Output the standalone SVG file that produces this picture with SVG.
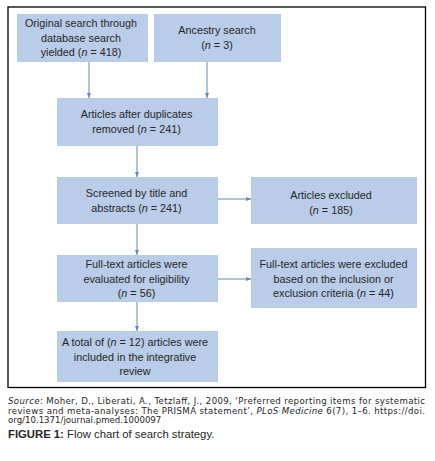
<svg xmlns="http://www.w3.org/2000/svg" width="435" height="461" viewBox="0 0 435 461">
<style>
.box{fill:#b9cde8;}
.t{font-family:"Liberation Sans",Arial,sans-serif;font-size:10.8px;fill:#262626;text-anchor:middle;}
.c{font-family:"DejaVu Sans",Verdana,sans-serif;font-size:8.6px;fill:#262626;}
.f{font-family:"Liberation Sans",Arial,sans-serif;font-size:11.3px;fill:#262626;}
.i{font-style:italic;}
.conn{stroke:#5b8cc0;stroke-width:1;fill:none;marker-end:url(#ah);}
</style>
<defs>
<marker id="ah" markerUnits="userSpaceOnUse" markerWidth="5" markerHeight="5" refX="5" refY="2.5" orient="auto">
<path d="M0,0.5 L5,2.5 L0,4.5 Z" fill="#5b8cc0"/>
</marker>
</defs>
<rect x="8" y="7" width="417.5" height="380.5" fill="#fff" stroke="#000" stroke-width="1.3"/>
<g id="connectors">
<line class="conn" x1="89" y1="62" x2="89" y2="98"/>
<line class="conn" x1="207" y1="62" x2="207" y2="98"/>
<line class="conn" x1="137" y1="146" x2="137" y2="177"/>
<line class="conn" x1="218" y1="199" x2="251" y2="199"/>
<line class="conn" x1="137" y1="224" x2="137" y2="255"/>
<line class="conn" x1="218" y1="279" x2="251" y2="279"/>
<line class="conn" x1="137" y1="302" x2="137" y2="331"/>
</g>
<g id="n1">
<rect class="box" x="17" y="14" width="131" height="48"/>
<text class="t" x="81" y="27">Original search through</text>
<text class="t" x="81" y="41.5">database search</text>
<text class="t" x="81" y="56">yielded (<tspan class="i">n</tspan> = 418)</text>
</g>
<g id="n2">
<rect class="box" x="154" y="14" width="127" height="48"/>
<text class="t" x="217" y="34">Ancestry search</text>
<text class="t" x="217" y="48.5">(<tspan class="i">n</tspan> = 3)</text>
</g>
<g id="n3">
<rect class="box" x="57" y="98" width="161" height="48"/>
<text class="t" x="136.5" y="118">Articles after duplicates</text>
<text class="t" x="136.5" y="132.5">removed  (<tspan class="i">n</tspan> = 241)</text>
</g>
<g id="n4">
<rect class="box" x="57" y="177" width="161" height="47"/>
<text class="t" x="136.5" y="196.5">Screened by title and</text>
<text class="t" x="136.5" y="211.5">abstracts (<tspan class="i">n</tspan> = 241)</text>
</g>
<g id="n5">
<rect class="box" x="251" y="177" width="166" height="47"/>
<text class="t" x="331" y="198.5">Articles excluded</text>
<text class="t" x="331" y="213.5">(<tspan class="i">n</tspan> = 185)</text>
</g>
<g id="n6">
<rect class="box" x="57" y="255" width="161" height="47"/>
<text class="t" x="136.5" y="268">Full-text articles were</text>
<text class="t" x="136.5" y="282.5">evaluated for eligibility</text>
<text class="t" x="136.5" y="297">(<tspan class="i">n</tspan> = 56)</text>
</g>
<g id="n7">
<rect class="box" x="251" y="248" width="166" height="60"/>
<text class="t" x="333.5" y="268">Full-text articles were excluded</text>
<text class="t" x="333.5" y="282.5">based on the inclusion or</text>
<text class="t" x="333.5" y="297">exclusion criteria (<tspan class="i">n</tspan> = 44)</text>
</g>
<g id="n8">
<rect class="box" x="57" y="331" width="161" height="51"/>
<text class="t" x="135" y="345.5">A total of (<tspan class="i">n</tspan> = 12) articles were</text>
<text class="t" x="135" y="360.5">included in the integrative</text>
<text class="t" x="135" y="375">review</text>
</g>
<g id="caption">
<text class="c" x="8" y="404" textLength="417" lengthAdjust="spacing"><tspan class="i">Source</tspan>: Moher, D., Liberati, A., Tetzlaff, J., 2009, ‘Preferred reporting items for systematic</text>
<text class="c" x="8" y="413.5" textLength="417" lengthAdjust="spacing">reviews and meta-analyses: The PRISMA statement’, <tspan class="i">PLoS Medicine</tspan> 6(7), 1–6. https://doi.</text>
<text class="c" x="8" y="422.5">org/10.1371/journal.pmed.1000097</text>
<text class="f" x="8" y="437.5"><tspan font-weight="bold">FIGURE 1:</tspan> Flow chart of search strategy.</text>
</g>
</svg>
